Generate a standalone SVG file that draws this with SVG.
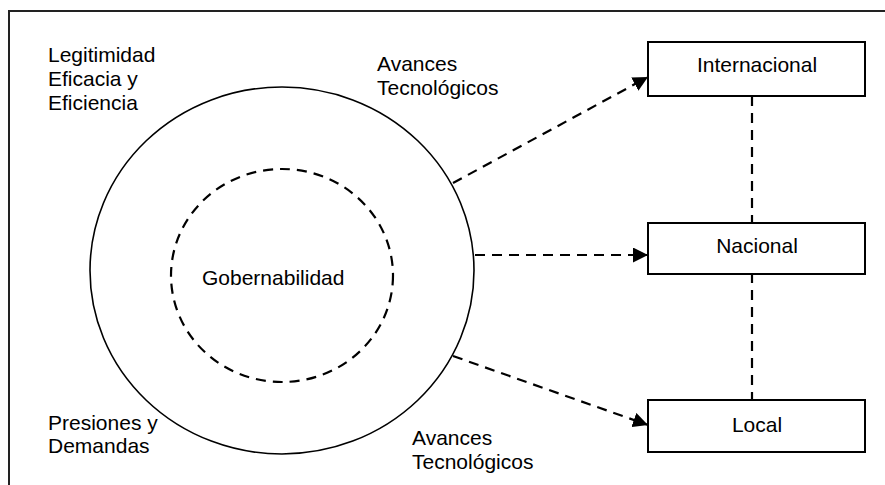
<svg xmlns="http://www.w3.org/2000/svg" width="885" height="485" viewBox="0 0 885 485">
<style>
text{font-family:"Liberation Sans",Arial,sans-serif;font-size:21px;fill:#000}
.box{fill:#fff;stroke:#000;stroke-width:2}
.dash{fill:none;stroke:#000;stroke-width:2.2;stroke-dasharray:10 7}
.mid{text-anchor:middle}
</style>
<defs>
<marker id="ah" markerUnits="userSpaceOnUse" markerWidth="15" markerHeight="15" refX="15" refY="7.5" orient="auto">
<path d="M0,0 L15,7.5 L0,15 z" fill="#000"/>
</marker>
</defs>
<rect width="885" height="485" fill="#fff"/>
<g id="frame" stroke="#222" stroke-width="2" fill="none">
<path d="M9,485 V11 H885"/>
</g>
<g id="outer">
<ellipse cx="282" cy="270.5" rx="192" ry="183.5" fill="none" stroke="#000" stroke-width="1.6"/>
</g>
<g id="inner">
<ellipse cx="282" cy="275.5" rx="111" ry="106.5" fill="none" stroke="#000" stroke-width="2.2" stroke-dasharray="10 7"/>
<text x="202" y="285">Gobernabilidad</text>
</g>
<g id="labels">
<text x="48" y="62">Legitimidad</text>
<text x="48" y="86">Eficacia y</text>
<text x="48" y="110">Eficiencia</text>
<text x="377" y="71">Avances</text>
<text x="377" y="95">Tecnológicos</text>
<text x="48" y="430">Presiones y</text>
<text x="48" y="453">Demandas</text>
<text x="412" y="445">Avances</text>
<text x="412" y="469">Tecnológicos</text>
</g>
<g id="connectors">
<line class="dash" x1="453" y1="183" x2="648" y2="77" marker-end="url(#ah)"/>
<line class="dash" x1="475" y1="255" x2="648" y2="255" marker-end="url(#ah)"/>
<line class="dash" x1="453" y1="356" x2="648" y2="425" marker-end="url(#ah)"/>
<line class="dash" x1="752" y1="96" x2="752" y2="223"/>
<line class="dash" x1="752" y1="273" x2="752" y2="400"/>
</g>
<g id="internacional">
<rect class="box" x="648" y="42" width="217" height="54"/>
<text class="mid" x="757" y="72">Internacional</text>
</g>
<g id="nacional">
<rect class="box" x="648" y="223" width="217" height="51"/>
<text class="mid" x="757" y="253">Nacional</text>
</g>
<g id="local">
<rect class="box" x="648" y="400" width="217" height="52"/>
<text class="mid" x="757" y="432">Local</text>
</g>
</svg>
